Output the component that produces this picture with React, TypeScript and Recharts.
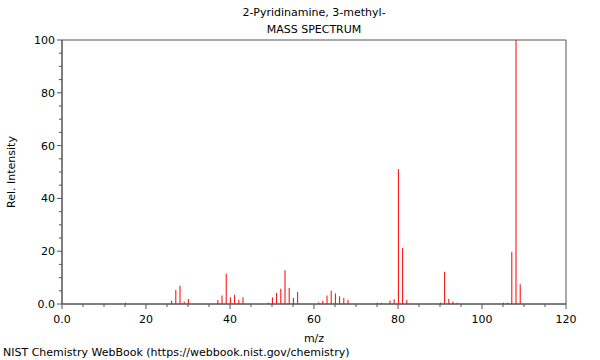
import { ComposedChart, Bar, XAxis, YAxis, ReferenceArea } from "recharts";

// peak positions (m/z) and relative intensities (%)
const mzValues = [
  15, 26, 27, 28, 29, 30, 37, 38, 39, 40, 41, 42, 43, 49, 50, 51, 52, 53, 54, 55, 56,
  61, 62, 63, 64, 65, 66, 67, 68, 75, 76, 78, 79, 80, 81, 82, 90, 91, 92, 93, 94,
  105, 106, 107, 108, 109,
];
const intensities = [
  0.5, 1.3, 5.3, 6.9, 0.9, 1.9, 1.5, 3.2, 11.5, 2.5, 3.5, 1.6, 2.5, 0.5, 2.5, 4.2, 5.8, 12.8, 6.1, 2.3, 4.5,
  0.6, 1.2, 3.2, 5.0, 4.0, 2.9, 2.3, 1.6, 0.5, 0.5, 1.3, 1.8, 51.1, 21.2, 1.5, 0.5, 12.2, 1.9, 0.9, 0.5,
  0.5, 0.5, 19.7, 100, 7.5,
];
const xTicks = [0, 5, 10, 15, 20, 25, 30, 35, 40, 45, 50, 55, 60, 65, 70, 75, 80, 85, 90, 95, 100, 105, 110, 115, 120];
const yTicks = [0, 5, 10, 15, 20, 25, 30, 35, 40, 45, 50, 55, 60, 65, 70, 75, 80, 85, 90, 95, 100];

const title = "2-Pyridinamine, 3-methyl-";
const subtitle = "MASS SPECTRUM";
const credit = "NIST Chemistry WebBook (https://webbook.nist.gov/chemistry)";

const data = mzValues.map((mz, i) => ({ mz, intensity: intensities[i] }));

const AXIS = "#555";
const PEAK = "#ff0000";
const FONT = "'DejaVu Sans', sans-serif";

function fmt(v: number) {
  return v === 0 ? "0.0" : String(v);
}

function MzTick({ x, y, payload }: any) {
  const major = payload.value % 20 === 0;
  return (
    <g>
      <line x1={x} x2={x} y1={y} y2={y + (major ? 5 : 3)} stroke={AXIS} />
      {major && (
        <text x={x} y={y + 19} textAnchor="middle" fontSize={11} fontFamily={FONT} fill="#000">
          {fmt(payload.value)}
        </text>
      )}
    </g>
  );
}

function IntensityTick({ x, y, payload }: any) {
  const major = payload.value % 20 === 0;
  return (
    <g>
      <line x1={x} x2={x - (major ? 5 : 3)} y1={y} y2={y} stroke={AXIS} />
      {major && (
        <text x={x - 7} y={y + 4} textAnchor="end" fontSize={11} fontFamily={FONT} fill="#000">
          {fmt(payload.value)}
        </text>
      )}
    </g>
  );
}

// 1px stick centred on the m/z position, left anti-aliased like the original
function Peak({ x, y, width, height }: any) {
  if (![x, y, width, height].every(Number.isFinite)) return null;
  return <rect x={x + width / 2 - 0.5} y={y} width={1} height={height} fill={PEAK} stroke="none" />;
}

export default function App() {
  return (
    <div style={{ position: "relative", width: 600, height: 360, fontFamily: FONT, fontSize: 11, color: "#000" }}>
      <style>{"body{margin:0}"}</style>
      <div style={{ position: "absolute", left: 62, width: 504, top: 6, textAlign: "center" }}>{title}</div>
      <div style={{ position: "absolute", left: 62, width: 504, top: 23, textAlign: "center" }}>{subtitle}</div>
      <ComposedChart
        width={600}
        height={360}
        data={data}
        margin={{ top: 40, right: 34, bottom: 0, left: 0 }}
      >
        <XAxis
          dataKey="mz"
          type="number"
          domain={[0, 120]}
          ticks={xTicks}
          interval={0}
          tick={<MzTick />}
          tickSize={0}
          tickMargin={0}
          tickLine={false}
          axisLine={{ stroke: AXIS }}
          height={56}
          allowDataOverflow
        />
        <YAxis
          type="number"
          domain={[0, 100]}
          ticks={yTicks}
          interval={0}
          tick={<IntensityTick />}
          tickSize={0}
          tickMargin={0}
          tickLine={false}
          axisLine={{ stroke: AXIS }}
          width={62}
          allowDataOverflow
        />
        <ReferenceArea x1={0} x2={120} y1={0} y2={100} fill="none" stroke={AXIS} />
        <Bar
          dataKey="intensity"
          barSize={1}
          fill={PEAK}
          stroke="none"
          shape={<Peak />}
          isAnimationActive={false}
        />
      </ComposedChart>
      <div style={{ position: "absolute", left: 0, width: 628, top: 332, textAlign: "center" }}>m/z</div>
      <div
        style={{
          position: "absolute",
          left: 11,
          top: 172,
          transform: "translate(-50%, -50%) rotate(-90deg)",
          whiteSpace: "nowrap",
        }}
      >
        Rel. Intensity
      </div>
      <div style={{ position: "absolute", left: 3, top: 346, whiteSpace: "nowrap" }}>{credit}</div>
    </div>
  );
}
